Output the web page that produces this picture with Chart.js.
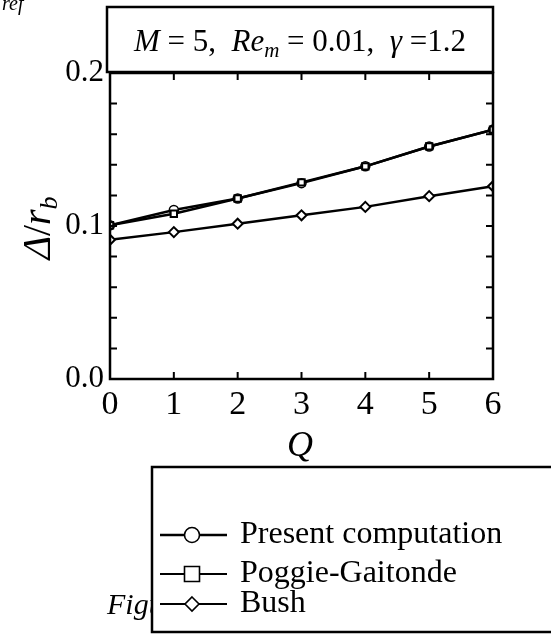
<!DOCTYPE html>
<html>
<head>
<meta charset="utf-8">
<script src="https://cdn.jsdelivr.net/npm/chart.js@4.4.1/dist/chart.umd.min.js"></script>
<style>
  body { margin: 0; background: #fff; }
  canvas { display: block; }
</style>
</head>
<body>
<canvas id="deltaChart" width="551" height="635"></canvas>
<script>
var qVals = [0, 1, 2, 3, 4, 5, 6];
var presentVals = [0.1005, 0.1105, 0.118, 0.128, 0.139, 0.152, 0.163];
var poggieVals = [0.1005, 0.108, 0.118, 0.1285, 0.139, 0.152, 0.163];
var bushVals = [0.091, 0.096, 0.1015, 0.107, 0.1125, 0.1195, 0.126];
var yTickLabels = ['0.0', '0.1', '0.2'];
var seriesNames = ['Present computation', 'Poggie-Gaitonde', 'Bush'];

var SERIF = "'Liberation Serif', 'DejaVu Serif', serif";

function pts(vals) {
    return qVals.map(function (q, i) { return {x: q, y: vals[i]}; });
}

// draw a run of text pieces, each with own font and baseline shift
function drawRuns(ctx, runs, x, y, align) {
    var total = 0;
    runs.forEach(function (r) { ctx.font = r.font; total += ctx.measureText(r.t).width; });
    var cx = align === 'center' ? x - total / 2 : x;
    ctx.textAlign = 'left';
    ctx.textBaseline = 'alphabetic';
    runs.forEach(function (r) {
        ctx.font = r.font;
        ctx.fillText(r.t, cx, y + (r.dy || 0));
        cx += ctx.measureText(r.t).width;
    });
}

function marker(ctx, style, x, y, r) {
    ctx.beginPath();
    if (style === 'circle') {
        ctx.arc(x, y, r, 0, Math.PI * 2);
    } else if (style === 'rect') {
        ctx.rect(x - r, y - r, 2 * r, 2 * r);
    } else {
        ctx.moveTo(x, y - r); ctx.lineTo(x + r, y); ctx.lineTo(x, y + r); ctx.lineTo(x - r, y); ctx.closePath();
    }
    ctx.fillStyle = '#fff';
    ctx.fill();
    ctx.stroke();
}

var decor = {
    id: 'decor',
    beforeDraw: function (chart) {
        var ctx = chart.ctx;
        ctx.save();
        ctx.fillStyle = '#000';
        ctx.font = "italic 20px " + SERIF;
        ctx.textBaseline = 'alphabetic';
        ctx.fillText('ref', 2, 10);
        ctx.restore();
    },
    afterDraw: function (chart) {
        var ctx = chart.ctx, a = chart.chartArea;
        var xs = chart.scales.x, ys = chart.scales.y;
        ctx.save();
        ctx.strokeStyle = '#000';
        ctx.fillStyle = '#000';

        // inward ticks
        ctx.lineWidth = 2;
        ctx.beginPath();
        qVals.forEach(function (q) {
            var px = xs.getPixelForValue(q);
            ctx.moveTo(px, a.bottom); ctx.lineTo(px, a.bottom - 7);
            ctx.moveTo(px, a.top); ctx.lineTo(px, a.top + 7);
        });
        for (var k = 0; k <= 10; k++) {
            var py = ys.getPixelForValue(k * 0.02);
            ctx.moveTo(a.left, py); ctx.lineTo(a.left + 7, py);
            ctx.moveTo(a.right, py); ctx.lineTo(a.right - 7, py);
        }
        ctx.stroke();
        ctx.lineWidth = 2.5;
        ctx.strokeRect(a.left, a.top, a.right - a.left, a.bottom - a.top);

        // parameter box
        ctx.fillStyle = '#fff';
        ctx.fillRect(107, 7, 386, 65);
        ctx.lineWidth = 2.5;
        ctx.strokeRect(107, 7, 386, 65);
        ctx.fillStyle = '#000';
        var it = "italic 31px " + SERIF, up = "31px " + SERIF, sub = "italic 21px " + SERIF;
        drawRuns(ctx, [
            {t: 'M', font: it}, {t: ' = 5,  ', font: up},
            {t: 'Re', font: it}, {t: 'm', font: sub, dy: 6}, {t: ' = 0.01,  ', font: up},
            {t: '\u03B3', font: it}, {t: ' =1.2', font: up}
        ], 300, 51, 'center');

        // x title
        ctx.font = "italic 36px " + SERIF;
        ctx.textAlign = 'center';
        ctx.fillText('Q', 300, 456);

        // y title, rotated
        ctx.save();
        ctx.translate(50, 228);
        ctx.rotate(-Math.PI / 2);
        drawRuns(ctx, [
            {t: '\u0394', font: "italic 40px " + SERIF},
            {t: '/', font: "40px " + SERIF},
            {t: 'r', font: "italic 40px " + SERIF},
            {t: 'b', font: "italic 26px " + SERIF, dy: 7}
        ], 0, 0, 'center');
        ctx.restore();

        // figure caption peeking out behind legend box
        ctx.font = "italic 30px " + SERIF;
        ctx.textAlign = 'left';
        ctx.textBaseline = 'alphabetic';
        ctx.fillText('Figure', 107, 614);

        // legend box
        ctx.fillStyle = '#fff';
        ctx.fillRect(152, 467, 410, 165);
        ctx.lineWidth = 2.5;
        ctx.strokeRect(152, 467, 410, 165);
        ctx.fillStyle = '#000';
        var styles = ['circle', 'rect', 'rectRot'];
        var rowsY = [535, 574, 604];
        var lineW = [2.5, 1.8, 1.8];
        seriesNames.forEach(function (name, i) {
            var y = rowsY[i];
            ctx.lineWidth = lineW[i];
            ctx.beginPath();
            ctx.moveTo(160, y); ctx.lineTo(227, y);
            ctx.stroke();
            ctx.lineWidth = 1.6;
            marker(ctx, styles[i], 192, y, i === 2 ? 7 : 7.5);
            ctx.fillStyle = '#000';
            ctx.font = "32px " + SERIF;
            ctx.textAlign = 'left';
            ctx.textBaseline = 'middle';
            ctx.fillText(name, 240, y);
        });
        ctx.restore();
    }
};

var ctx = document.getElementById('deltaChart').getContext('2d');
var deltaChart = new Chart(ctx, {
    type: 'line',
    data: {
        datasets: [{
            label: seriesNames[0],
            data: pts(presentVals),
            borderColor: '#000',
            borderWidth: 2.5,
            pointStyle: 'circle',
            pointRadius: 4.5,
            pointBackgroundColor: '#fff',
            pointBorderColor: '#000',
            pointBorderWidth: 1.5,
            order: 2
        }, {
            label: seriesNames[1],
            data: pts(poggieVals),
            borderColor: '#000',
            borderWidth: 2.5,
            pointStyle: 'rect',
            pointRadius: 4.5,
            pointBackgroundColor: '#fff',
            pointBorderColor: '#000',
            pointBorderWidth: 2,
            order: 1
        }, {
            label: seriesNames[2],
            data: pts(bushVals),
            borderColor: '#000',
            borderWidth: 2.5,
            pointStyle: 'rectRot',
            pointRadius: 5,
            pointBackgroundColor: '#fff',
            pointBorderColor: '#000',
            pointBorderWidth: 2,
            order: 0
        }]
    },
    options: {
        responsive: false,
        animation: false,
        devicePixelRatio: 1,
        layout: { padding: { left: 0, top: 73, right: 58, bottom: 191 } },
        plugins: { legend: { display: false }, tooltip: { enabled: false } },
        scales: {
            x: {
                type: 'linear',
                min: 0, max: 6,
                grid: { display: false, drawTicks: false },
                border: { display: false },
                ticks: {
                    stepSize: 1,
                    color: '#000',
                    padding: 6,
                    font: { family: SERIF, size: 34 }
                },
                afterFit: function (s) { s.height = 65; }
            },
            y: {
                min: 0, max: 0.2,
                grid: { display: false, drawTicks: false },
                border: { display: false },
                ticks: {
                    stepSize: 0.1,
                    color: '#000',
                    padding: 6,
                    font: { family: SERIF, size: 31 },
                    callback: function (v) {
                        var idx = Math.round(v * 10);
                        return yTickLabels[idx];
                    }
                },
                afterFit: function (s) { s.width = 110; }
            }
        }
    },
    plugins: [decor]
});
</script>
</body>
</html>
